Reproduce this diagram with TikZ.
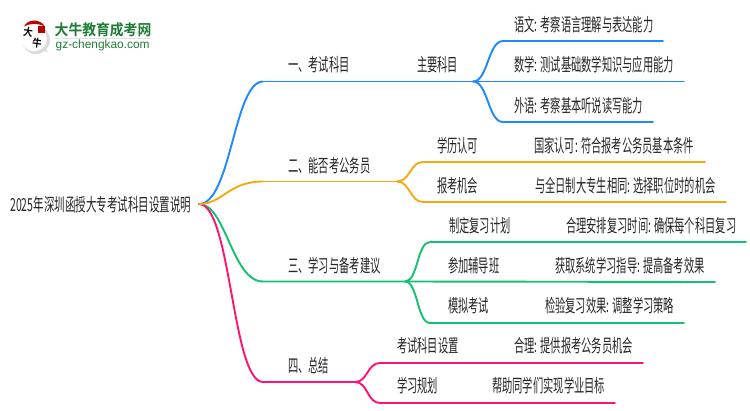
\documentclass[tikz,border=0pt]{standalone}
\usepackage{fontspec}
\setmainfont{Noto Sans CJK SC}
\newfontfamily\cjk[FakeStretch=0.57]{Noto Sans CJK SC}
\newfontfamily\cjkr[FakeStretch=0.584]{Noto Sans CJK SC}
\newfontfamily\cjkb[FakeStretch=0.92]{Noto Sans CJK SC Bold}
\newfontfamily\cjkl[FakeStretch=0.9]{Noto Sans CJK SC Bold}
\newfontfamily\latn{Liberation Sans}
\definecolor{cblue}{HTML}{1E88FF}
\definecolor{corange}{HTML}{F5A80F}
\definecolor{cgreen}{HTML}{12C272}
\definecolor{cpink}{HTML}{FF1273}
\definecolor{lgreen}{HTML}{1E7B34}
\tikzset{
  lbl/.style={anchor=west,inner sep=0pt,font=\cjk\fontsize{18}{18}\selectfont,text=black!85},
  wire/.style={line width=1.9pt,line cap=round},
}
\newcommand{\branch}[4]{\draw[wire,#1] (#2) .. controls ($(#2)+(#4,0)$) and ($(#3)+(-#4,0)$) .. (#3);}
\usetikzlibrary{calc}
\begin{document}
\begin{tikzpicture}[x=1pt,y=-1pt]
\useasboundingbox (0,0) rectangle (750,410);
% logo
\fill[black!14] (36,40) circle (14);
\fill[black!14] (38,48) -- (48,52.5) -- (43,44) -- cycle;
\fill[white] (34,38.5) circle (12.8);
\fill[red!75!black] (24,26.5) .. controls (28,18.5) and (40,18.5) .. (45,26.5) .. controls (38,23) and (30,23) .. (24,26.5) -- cycle;
\fill[red!70!black] (38,25.5) rectangle (45,33);
\node[inner sep=0pt,font=\cjkl\fontsize{10.5}{11}\selectfont,rotate=-8] (logoa) at (28,32) {大};
\node[inner sep=0pt,font=\cjkl\fontsize{10.5}{11}\selectfont,rotate=-8] (logob) at (37,43) {牛};
\node[inner sep=0pt,anchor=west,text=lgreen,font=\cjkb\fontsize{15}{15}\selectfont] (logot) at (54.5,30) {大牛教育成考网};
\draw[black!12,line width=.8pt] (55,38.7) -- (150,38.7);
\node[inner sep=0pt,anchor=west,text=lgreen,font=\latn\fontsize{11.9}{12}\selectfont] (logou) at (55.5,45) {gz-chengkao.com};
% junctions
\coordinate (r) at (199,204);
\coordinate (a) at (263,81.5); \coordinate (ae) at (473,81.5);
\coordinate (b) at (263,181.5); \coordinate (be) at (397,181.5);
\coordinate (c) at (263,281.5); \coordinate (ce) at (405,281.5);
\coordinate (d) at (263,382); \coordinate (de) at (355,382);
\coordinate (a1) at (503,41); \coordinate (a1e) at (663,41);
\coordinate (a2e) at (684,81.5);
\coordinate (a3) at (503,122); \coordinate (a3e) at (653,122);
\coordinate (b1) at (423,162); \coordinate (b1e) at (705,162);
\coordinate (b2) at (423,202); \coordinate (b2e) at (726,202);
\coordinate (c1) at (430,242); \coordinate (c1e) at (746,242);
\coordinate (c2e) at (715,282);
\coordinate (c3) at (430,323); \coordinate (c3e) at (684,323);
\coordinate (d1) at (380,363); \coordinate (d1e) at (643,363);
\coordinate (d2) at (380,403); \coordinate (d2e) at (615,403);
% connectors
\draw[wire,cgreen] (r) .. controls (226,204) and (232,281.5) .. (c);
\draw[wire,cpink] (r) .. controls (231,204) and (232,382) .. (d);
\draw[wire,cblue] (r) .. controls (231,204) and (234,81.5) .. (a);
\draw[wire,corange] (r) .. controls (223,204) and (228,181.5) .. (b);
\draw[wire,cblue] (a) -- (ae) -- (a2e);
\draw[wire,corange] (b) -- (be);
\draw[wire,cgreen] (c) -- (ce) -- (c2e);
\draw[wire,cpink] (d) -- (de);
\branch{cblue}{ae}{a1}{15}
\branch{cblue}{ae}{a3}{15}
\branch{corange}{be}{b1}{13}
\branch{corange}{be}{b2}{13}
\branch{cgreen}{ce}{c1}{13}
\branch{cgreen}{ce}{c3}{13}
\branch{cpink}{de}{d1}{13}
\branch{cpink}{de}{d2}{13}
\draw[wire,cblue] (a1) -- (a1e);
\draw[wire,cblue] (a3) -- (a3e);
\draw[wire,corange] (b1) -- (b1e);
\draw[wire,corange] (b2) -- (b2e);
\draw[wire,cgreen] (c1) -- (c1e);
\draw[wire,cgreen] (c3) -- (c3e);
\draw[wire,cpink] (d1) -- (d1e);
\draw[wire,cpink] (d2) -- (d2e);
% labels
\node[lbl,font=\cjkr\fontsize{18}{18}\selectfont] (root) at (10,205) {2025年深圳函授大专考试科目设置说明};
\node[lbl] (n1) at (288,65) {一、考试科目};
\node[lbl] (n11) at (417,65) {主要科目};
\node[lbl] (n111) at (514,25) {语文: 考察语言理解与表达能力};
\node[lbl] (n112) at (514,65) {数学: 测试基础数学知识与应用能力};
\node[lbl] (n113) at (514,105.5) {外语: 考察基本听说读写能力};
\node[lbl] (n2) at (288,166) {二、能否考公务员};
\node[lbl] (n21) at (437,146) {学历认可};
\node[lbl] (n22) at (437,186) {报考机会};
\node[lbl] (n211) at (534,145.5) {国家认可: 符合报考公务员基本条件};
\node[lbl] (n221) at (535,185.5) {与全日制大专生相同: 选择职位时的机会};
\node[lbl] (n3) at (288,265.5) {三、学习与备考建议};
\node[lbl] (n31) at (449,226) {制定复习计划};
\node[lbl] (n32) at (448,266) {参加辅导班};
\node[lbl] (n33) at (448,306) {模拟考试};
\node[lbl] (n311) at (566,226) {合理安排复习时间: 确保每个科目复习};
\node[lbl] (n321) at (555,266) {获取系统学习指导: 提高备考效果};
\node[lbl] (n331) at (545,306) {检验复习效果: 调整学习策略};
\node[lbl] (n4) at (288,366) {四、总结};
\node[lbl] (n41) at (397,346) {考试科目设置};
\node[lbl] (n42) at (397,386) {学习规划};
\node[lbl] (n411) at (514,346) {合理: 提供报考公务员机会};
\node[lbl] (n421) at (492,386) {帮助同学们实现学业目标};
\end{tikzpicture}
\end{document}
